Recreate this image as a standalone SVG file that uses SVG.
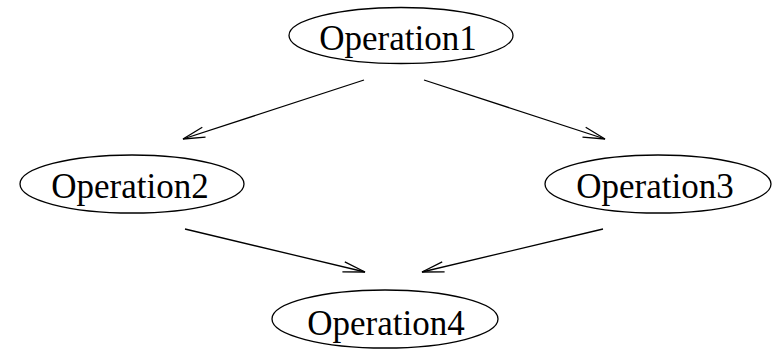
<svg xmlns="http://www.w3.org/2000/svg" width="773" height="349" viewBox="0 0 773 349">
  <style>
    .node ellipse { fill: #ffffff; stroke: #000000; stroke-width: 1.3; }
    .node text { font-family: "Liberation Serif", "Times New Roman", serif; font-size: 35px; fill: #000000; text-anchor: middle; }
    .edge { stroke: #000000; stroke-width: 1.3; fill: none; marker-end: url(#open-arrow); }
  </style>
  <defs>
    <marker id="open-arrow" markerUnits="userSpaceOnUse" markerWidth="30" markerHeight="16" viewBox="-24 -8 26 16" refX="0" refY="0" orient="auto">
      <path d="M-22,-5.2 L0,0 L-22,5.2" fill="none" stroke="#000000" stroke-width="1.3"/>
    </marker>
  </defs>
  <rect width="773" height="349" fill="#ffffff"/>

  <g id="connectors">
    <line class="edge" x1="364" y1="80" x2="183" y2="139"/>
    <line class="edge" x1="424" y1="80" x2="605" y2="139"/>
    <line class="edge" x1="185" y1="229" x2="365" y2="272"/>
    <line class="edge" x1="603" y1="229" x2="422" y2="272"/>
  </g>

  <g id="operation1" class="node">
    <ellipse cx="401" cy="35.5" rx="112" ry="28"/>
    <text x="398" y="50">Operation1</text>
  </g>
  <g id="operation2" class="node">
    <ellipse cx="132" cy="184" rx="112" ry="29"/>
    <text x="130" y="198">Operation2</text>
  </g>
  <g id="operation3" class="node">
    <ellipse cx="658" cy="184" rx="113" ry="29"/>
    <text x="655" y="198">Operation3</text>
  </g>
  <g id="operation4" class="node">
    <ellipse cx="385" cy="319" rx="113" ry="29"/>
    <text x="386" y="335">Operation4</text>
  </g>
</svg>
